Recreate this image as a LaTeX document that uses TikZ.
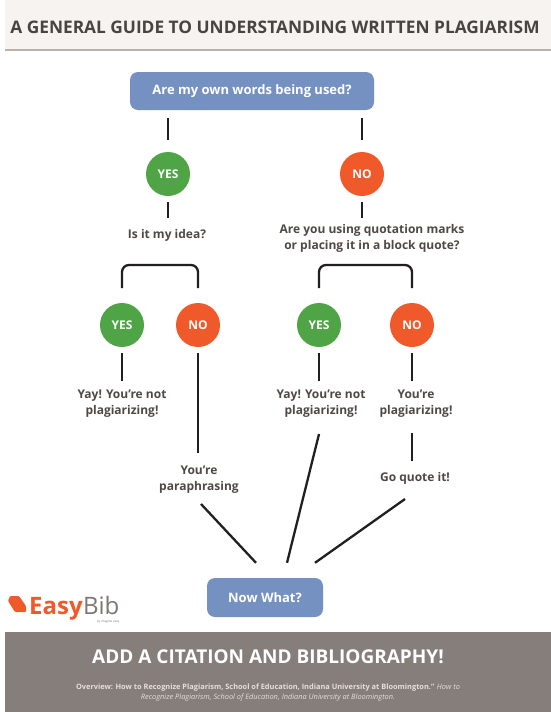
\documentclass[tikz,border=0pt]{standalone}
\usepackage{fontspec}
\setmainfont{Open Sans}
\usetikzlibrary{calc}
\definecolor{hdrbg}{HTML}{F6F3F0}
\definecolor{hdrline}{HTML}{B9B0AA}
\definecolor{hdrtext}{HTML}{4A4441}
\definecolor{qblue}{HTML}{7591C2}
\definecolor{yesgreen}{HTML}{4FA546}
\definecolor{noorange}{HTML}{F05A2B}
\definecolor{labeltext}{HTML}{4F4846}
\definecolor{linecol}{HTML}{231F20}
\definecolor{footbg}{HTML}{857E7A}
\definecolor{foottext}{HTML}{E4E0DD}
\definecolor{bibgray}{HTML}{7C7674}
\tikzset{
  qbox/.style={fill=qblue, rounded corners=8pt, text=white, font=\fontsize{13}{15}\selectfont\bfseries, inner sep=0pt},
  yesc/.style={circle, fill=yesgreen, minimum size=44pt, inner sep=0pt, text=white, font=\fontsize{12}{14}\selectfont\bfseries},
  noc/.style={circle, fill=noorange, minimum size=44pt, inner sep=0pt, text=white, font=\fontsize{12}{14}\selectfont\bfseries},
  lbl/.style={text=labeltext, font=\fontsize{12}{16}\selectfont\bfseries, align=center, inner sep=0pt},
  conn/.style={draw=linecol, line width=2.3pt},
}
\begin{document}
\begin{tikzpicture}[x=1pt,y=-1pt]
\useasboundingbox (0,0) rectangle (551,712);
\fill[white] (0,0) rectangle (551,712);
% header
\fill[hdrbg] (5,0) rectangle (551,50);
\draw[hdrline, line width=1.8pt] (5,50) -- (551,50);
\node[text=hdrtext, font=\fontsize{17.3}{19}\selectfont\bfseries, inner sep=0pt] (title) at (275,27) {A GENERAL GUIDE TO UNDERSTANDING WRITTEN PLAGIARISM};

% top question
\node[qbox, minimum width=244pt, minimum height=38pt] (q1) at (252,91) {Are my own words being used?};
\node[yesc] (yes1) at (168,174) {YES};
\node[noc] (no1) at (362,174) {NO};
\draw[conn] (yes1 |- 0,118) -- (yes1 |- 0,140);
\draw[conn] (no1 |- 0,118) -- (no1 |- 0,140);

\node[lbl] (t1) at (167,235) {Is it my idea?};
\node[lbl] (t2) at (372,238) {Are you using quotation marks\\or placing it in a block quote?};
\draw[conn] (yes1 |- 0,202) -- (yes1 |- 0,218);
\draw[conn] (no1 |- 0,202) -- (no1 |- 0,218);

% second row
\node[yesc] (yes2) at (122,325) {YES};
\node[noc] (no2) at (198,325) {NO};
\node[yesc] (yes3) at (319,325) {YES};
\node[noc] (no3) at (412,325) {NO};
\draw[conn, rounded corners=7pt] (yes2 |- 0,288) -- (yes2 |- 0,265) -- (no2 |- 0,265) -- (no2 |- 0,288);
\draw[conn, rounded corners=7pt] (yes3 |- 0,288) -- (yes3 |- 0,265) -- (no3 |- 0,265) -- (no3 |- 0,288);

% outcomes
\node[lbl] (r1) at (122,404) {Yay! You’re not\\plagiarizing!};
\node[lbl] (r2) at (199,480) {You’re\\paraphrasing};
\node[lbl] (r3) at (321,404) {Yay! You’re not\\plagiarizing!};
\node[lbl] (r4) at (416,404) {You’re\\plagiarizing!};
\node[lbl] (r5) at (415,478) {Go quote it!};
\draw[conn] (yes2 |- 0,353) -- (yes2 |- 0,381);
\draw[conn] (no2 |- 0,353) -- (no2 |- 0,453);
\draw[conn] (yes3 |- 0,353) -- (yes3 |- 0,381);
\draw[conn] (no3 |- 0,353) -- (no3 |- 0,381);
\draw[conn] (no3 |- 0,433) -- (no3 |- 0,461);

% now what
\node[qbox, minimum width=116pt, minimum height=39pt] (nw) at (265,597.5) {Now What?};
\draw[conn] (r2.south |- 0,504) ++(2,0) -- ($(nw.north)+(-9,-15)$);
\draw[conn] (r3.south |- 0,434) ++(-2,0) -- ($(nw.north)+(22,-15)$);
\draw[conn] (r5.south |- 0,499) ++(-10,0) -- ($(nw.north)+(50,-15)$);

% logo
\fill[noorange, rounded corners=1pt] (10,596) -- (19,596) -- (26,606) -- (26,612) -- (15,612) -- (8,601) -- cycle;
\node[anchor=base west, inner sep=0pt, text=noorange, font=\fontsize{24}{26}\selectfont\bfseries] (easy) at (29,614) {Easy};
\node[anchor=base west, inner sep=0pt, text=bibgray, font=\fontsize{24}{26}\selectfont] (bib) at (easy.base east) {Bib};
\node[anchor=north east, inner sep=0pt, text=bibgray, font=\fontsize{3}{3}\selectfont] (byie) at ($(bib.base east)+(0,6)$) {by imagine easy};

% footer
\fill[footbg] (5,632) rectangle (551,712);
\node[text=white, font=\fontsize{19}{22}\selectfont\bfseries, inner sep=0pt] (cta) at (268,657) {ADD A CITATION AND BIBLIOGRAPHY!};
\node[text=foottext, font=\fontsize{7.4}{10}\selectfont, align=center, inner sep=0pt] (src) at (268,693) {\textbf{Overview: How to Recognize Plagiarism, School of Education, Indiana University at Bloomington.”} \textit{How to}\\\textit{Recognize Plagiarism, School of Education, Indiana University at Bloomington.}};
\end{tikzpicture}
\end{document}
